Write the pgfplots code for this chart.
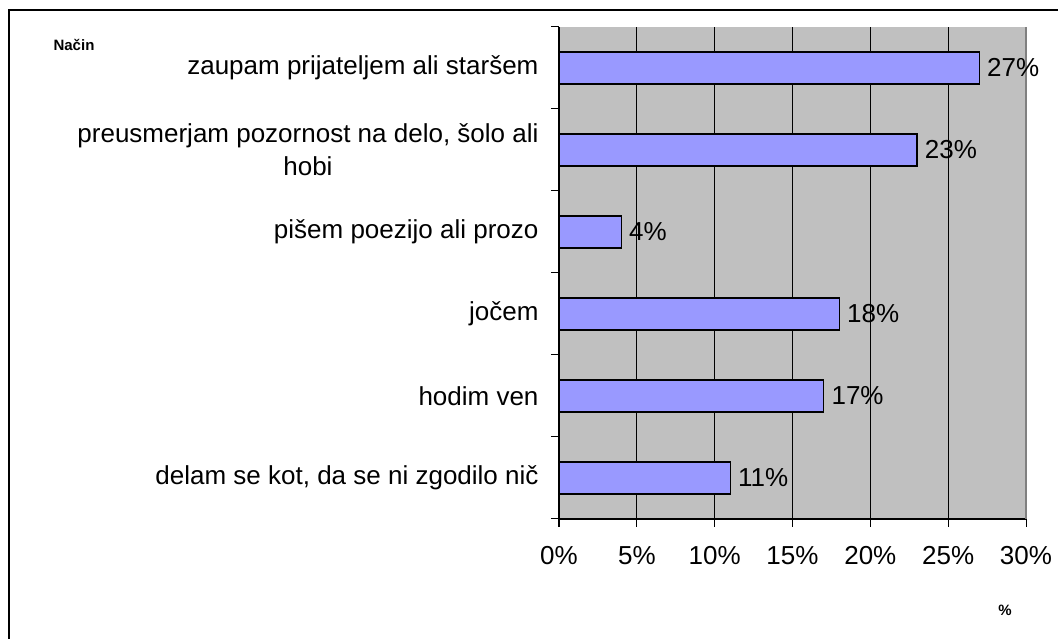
\documentclass[border=0pt]{standalone}
\usepackage{fontspec}
\setmainfont{Liberation Sans}
\usepackage{pgfplots}
\pgfplotsset{compat=1.18}
\definecolor{plotbg}{HTML}{C0C0C0}
\definecolor{barfill}{HTML}{9999FF}
\begin{document}
\begin{tikzpicture}[x=1pt,y=1pt]
\useasboundingbox (0,0) rectangle (1058,639);
\draw[line width=2.5pt] (9,0) -- (9,629) -- (1058,629);
\begin{axis}[
  at={(559pt,120pt)}, anchor=south west,
  scale only axis, width=467pt, height=492pt,
  xbar, bar width=0.39,
  xmin=0, xmax=30, ymin=-0.5, ymax=5.5,
  axis background/.style={fill=plotbg},
  axis x line*=bottom, axis y line*=left,
  axis line style={line width=1.2pt,-},
  xtick={0,5,...,30},
  xticklabels={0\%,5\%,10\%,15\%,20\%,25\%,30\%},
  ytick={0,...,5},
  yticklabels={delam se kot{,} da se ni zgodilo nič, hodim ven, jočem, pišem poezijo ali prozo, {preusmerjam pozornost na delo, šolo ali\\[4pt]hobi}, zaupam prijateljem ali staršem},
  minor ytick={-0.5,0.5,...,5.5},
  tick align=outside,
  major tick length=8pt, minor tick length=8pt,
  y tick style={draw=none},
  minor y tick style={draw=black, line width=1pt},
  x tick style={draw=black, line width=1pt},
  xmajorgrids, major x grid style={black, line width=0.8pt},
  tick label style={font=\fontsize{26}{29}\selectfont},
  yticklabel style={align=center, xshift=-9pt},
  xticklabel style={yshift=-16pt},
  /pgf/number format/assume math mode=true,
  nodes near coords={\pgfmathprintnumber{\pgfplotspointmeta}\%},
  point meta=x,
  every node near coord/.append style={font=\fontsize{26}{29}\selectfont, anchor=west, xshift=4pt, black},
  clip=false,
]
\addplot[fill=barfill, draw=black, line width=1.2pt] coordinates {(11,0) (17,1) (18,2) (4,3) (23,4) (27,5)};
\draw[color=gray, line width=1.2pt] (axis cs:30,-0.5) -- (axis cs:30,5.5);
\end{axis}
\node[font=\bfseries\fontsize{15}{17}\selectfont] at (74,594) {Način};
\node[font=\bfseries\fontsize{15}{17}\selectfont] at (1005,29) {\%};
\end{tikzpicture}
\end{document}
